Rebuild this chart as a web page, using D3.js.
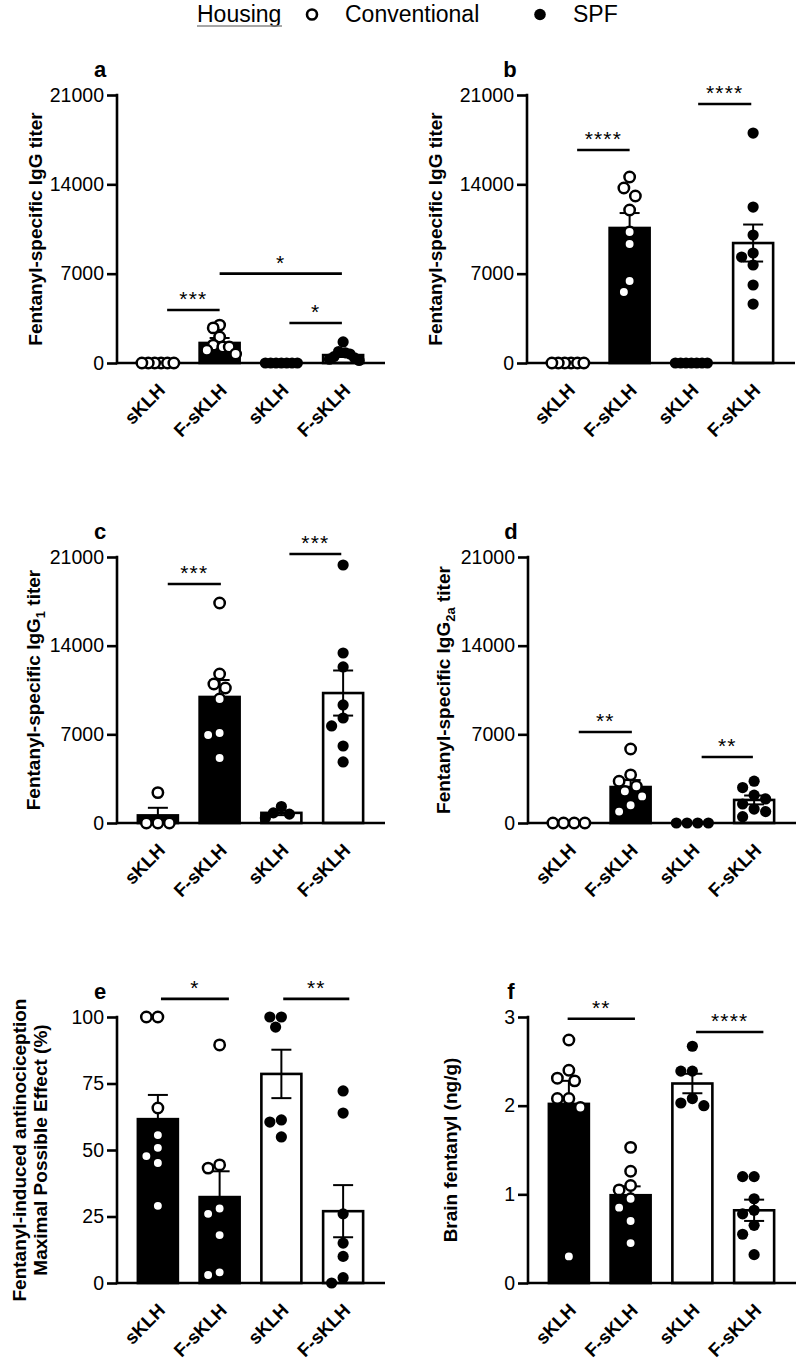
<!DOCTYPE html>
<html><head><meta charset="utf-8">
<script src="https://cdn.jsdelivr.net/npm/d3@7"></script>
<style>
body{margin:0;background:#fff}
svg{display:block}
text{font-family:"Liberation Sans", Arial, Helvetica, sans-serif;fill:#000}
</style>
</head><body>
<svg id="chart" width="800" height="1367"></svg>
<script>
// ---------------- DATA ----------------
const categories = ["sKLH", "F-sKLH", "sKLH", "F-sKLH"];
const housing = ["Conventional", "Conventional", "SPF", "SPF"];
const legendItems = ["Conventional", "SPF"];

const titerTicks = [0, 7000, 14000, 21000];
const mpeTicks = [0, 25, 50, 75, 100];
const brainTicks = [0, 1, 2, 3];

// a: Fentanyl-specific IgG titer (first cohort)
const aPoints = [[0,0,0,0,0,0], [2970,2750,2040,1400,1250,1250,1000,700], [0,0,0,0,0,0,0], [1650,900,800,700,500,400,300,200]];
const aMeans = [0, 1570, 0, 620];
const aSem = [0, 390, 0, 150];
const aSig = [[0.15, 1.0, 4150, "***"], [1.0, 2.98, 7000, "*"], [2.13, 2.98, 3130, "*"]];

// b: Fentanyl-specific IgG titer
const bPoints = [[0,0,0,0,0,0], [14570,13710,13090,11990,10270,9320,6430,5560], [0,0,0,0,0,0,0], [18020,12220,10030,8620,8300,7680,6110,4620]];
const bMeans = [0, 10580, 0, 9400];
const bSem = [0, 1170, 0, 1450];
const bSig = [[0.15, 1.0, 16690, "****"], [2.11, 2.97, 20300, "****"]];

// c: Fentanyl-specific IgG1 titer
const cPoints = [[2400,0,0,0], [17370,11760,10970,10660,9790,7100,6950,5130], [1300,800,700,400], [20370,13420,12320,9320,8290,7660,6080,4820]];
const cMeans = [600, 9950, 800, 10260];
const cSem = [600, 1340, 180, 1780];
const cSig = [[0.16, 1.02, 18870, "***"], [2.13, 2.97, 21240, "***"]];

// d: Fentanyl-specific IgG2a titer
const dPoints = [[0,0,0,0], [5840,3800,3300,2900,2500,2100,1400,900], [0,0,0,0], [3300,2800,2200,1900,1500,1100,900,500]];
const dMeans = [0, 2840, 0, 1820];
const dSem = [0, 550, 0, 350];
const dSig = [[0.16, 1.02, 7180, "**"], [2.15, 2.98, 5210, "**"]];

// e: Fentanyl-induced antinociception, MPE (%)
const ePoints = [[100,100,65.8,55.6,50.8,47.7,45.1,29], [89.5,44.4,43.2,28,26,18,4,3], [100,100,96.2,61.3,60.5,54.9], [72.2,63.9,26,15,10,2,0]];
const eMeans = [61.6, 32.3, 78.6, 27];
const eSem = [9.1, 9.7, 9.1, 9.8];
const eSig = [[0.05, 1.15, 106.8, "*"], [2.03, 3.1, 106.8, "**"]];

// f: Brain fentanyl (ng/g)
const fPoints = [[2.74,2.40,2.31,2.28,2.08,2.08,1.98,0.30], [1.53,1.26,1.1,1.05,0.95,0.85,0.7,0.45], [2.67,2.39,2.39,2.08,2.03,2.0], [1.2,1.2,0.95,0.82,0.78,0.65,0.55,0.32]];
const fMeans = [2.02, 0.99, 2.25, 0.82];
const fSem = [0.26, 0.10, 0.11, 0.12];
const fSig = [[-0.02, 1.07, 2.98, "**"], [2.06, 3.15, 2.83, "****"]];

// ---------------- LAYOUT ----------------
const panels = [
  {id:"a", pts:aPoints, means:aMeans, sem:aSem, sig:aSig, ticks:titerTicks, max:21000, ax:117, top:95, bot:363, titleX:35, title:[[["Fentanyl-specific IgG titer"]]]},
  {id:"b", pts:bPoints, means:bMeans, sem:bSem, sig:bSig, ticks:titerTicks, max:21000, ax:527, top:95, bot:363, titleX:435, title:[[["Fentanyl-specific IgG titer"]]]},
  {id:"c", pts:cPoints, means:cMeans, sem:cSem, sig:cSig, ticks:titerTicks, max:21000, ax:117, top:557, bot:823, titleX:33, title:[[["Fentanyl-specific IgG"],["1","sub"],[" titer"]]]},
  {id:"d", pts:dPoints, means:dMeans, sem:dSem, sig:dSig, ticks:titerTicks, max:21000, ax:528, top:557, bot:823, titleX:443, title:[[["Fentanyl-specific IgG"],["2a","sub"],[" titer"]]]},
  {id:"e", pts:ePoints, means:eMeans, sem:eSem, sig:eSig, ticks:mpeTicks, max:100, ax:117, top:1017, bot:1283, titleX:19, title:[[["Fentanyl-induced antinociception"]],[["Maximal Possible Effect (%)"]]]},
  {id:"f", pts:fPoints, means:fMeans, sem:fSem, sig:fSig, ticks:brainTicks, max:3, ax:528, top:1017, bot:1283, titleX:450, title:[[["Brain fentanyl (ng/g)"]]]}
];

const svg = d3.select("#chart");
const SW = 2.6;       // axis stroke
const BARW = 40;
const R = 5.2;

// legend
const lg = svg.append("g");
lg.append("text").attr("x", 197).attr("y", 22).attr("font-size", 23).text("Housing");
lg.append("line").attr("x1", 197).attr("x2", 282).attr("y1", 26).attr("y2", 26).attr("stroke", "#888").attr("stroke-width", 1.3);
const legX = d3.scalePoint().domain(legendItems).range([312, 540]);
legendItems.forEach(h => {
  const cx = legX(h);
  lg.append("circle").attr("cx", cx).attr("cy", 14.5).attr("r", h === "SPF" ? 5.8 : 5)
    .attr("fill", h === "SPF" ? "#000" : "#fff").attr("stroke", "#000").attr("stroke-width", h === "SPF" ? 0 : 2.6);
  lg.append("text").attr("x", cx + 33).attr("y", 22).attr("font-size", 23).text(h);
});

function swarm(vals, y, D, maxHalf) {
  const pts = vals.map(v => ({v, py: y(v), dx: 0}));
  const order = pts.slice().sort((p, q) => q.v - p.v);
  const placed = [];
  const cands = [0];
  for (let j = 1; j < 30; j++) { cands.push(-j * D / 2, j * D / 2); }
  order.forEach(p => {
    for (const c of cands) {
      if (placed.every(o => Math.hypot(o.dx - c, o.py - p.py) >= D - 0.01)) { p.dx = c; break; }
    }
    placed.push(p);
  });
  const allSame = vals.every(v => v === vals[0]);
  if (allSame) {
    const mn = d3.min(pts, p => p.dx), mx = d3.max(pts, p => p.dx);
    pts.forEach(p => p.dx -= (mn + mx) / 2);
  }
  const m = d3.max(pts, p => Math.abs(p.dx));
  if (m > maxHalf) pts.forEach(p => p.dx *= maxHalf / m);
  return pts;
}

panels.forEach(P => {
  const g = svg.append("g");
  const y = d3.scaleLinear().domain([0, P.max]).range([P.bot, P.top]);
  const x = d3.scalePoint().domain(d3.range(categories.length)).range([P.ax + 10, P.ax + 257]).padding(0.5);
  const step = x.step();
  const xf = f => x(0) + f * step;

  // panel letter
  g.append("text").attr("x", P.ax - 17).attr("y", P.top - 18).attr("text-anchor", "middle")
    .attr("font-size", 22).attr("font-weight", "bold").text(P.id);

  // bars
  categories.forEach((c, i) => {
    const conv = housing[i] === "Conventional";
    const yt = y(P.means[i]);
    g.append("rect").attr("x", x(i) - BARW / 2).attr("y", yt)
      .attr("width", BARW).attr("height", Math.max(0, P.bot - yt))
      .attr("fill", conv ? "#000" : "#fff").attr("stroke", "#000").attr("stroke-width", SW);
  });

  // error bars
  categories.forEach((c, i) => {
    if (P.sem[i] <= 0) return;
    const cx = x(i);
    const y1 = y(P.means[i] + P.sem[i]), y2 = y(Math.max(0, P.means[i] - P.sem[i]));
    g.append("line").attr("x1", cx).attr("x2", cx).attr("y1", y1).attr("y2", y2).attr("stroke", "#000").attr("stroke-width", 2);
    [y1, y2].forEach(yy => g.append("line").attr("x1", cx - 10).attr("x2", cx + 10).attr("y1", yy).attr("y2", yy).attr("stroke", "#000").attr("stroke-width", 2));
  });

  // axes
  const yAxis = d3.axisLeft(y).tickValues(P.ticks).tickSize(10).tickPadding(3).tickFormat(d3.format("d"));
  const ya = g.append("g").attr("transform", `translate(${P.ax},0)`).call(yAxis);
  ya.select(".domain").remove();
  ya.selectAll(".tick line").attr("stroke", "#000").attr("stroke-width", SW);
  ya.selectAll(".tick text").attr("font-size", 19.5).attr("font-family", "Liberation Sans, Arial, sans-serif").attr("fill", "#000");
  g.append("line").attr("x1", P.ax).attr("x2", P.ax).attr("y1", P.top - 1.3).attr("y2", P.bot + 1.3).attr("stroke", "#000").attr("stroke-width", SW);
  g.append("line").attr("x1", P.ax).attr("x2", P.ax + 268).attr("y1", P.bot).attr("y2", P.bot).attr("stroke", "#000").attr("stroke-width", SW);

  // x labels
  categories.forEach((c, i) => {
    g.append("text").attr("transform", `translate(${x(i) - 1},${P.bot + 19}) rotate(-45)`)
      .attr("text-anchor", "end").attr("dy", "0.72em").attr("font-size", 18.5).attr("font-weight", "bold").text(c);
  });

  // y title
  const midY = (P.top + P.bot) / 2;
  P.title.forEach((line, li) => {
    const t = g.append("text").attr("transform", `translate(${P.titleX + li * 21},${midY}) rotate(-90)`)
      .attr("text-anchor", "middle").attr("font-size", 19).attr("font-weight", "bold").attr("dy", "0.35em");
    line.forEach(seg => {
      if (seg[1] === "sub") t.append("tspan").attr("font-size", 13).attr("dy", 5).text(seg[0]);
      else if (t.selectAll("tspan").size() > 0) t.append("tspan").attr("dy", -5).text(seg[0]);
      else t.append("tspan").text(seg[0]);
    });
  });

  // points
  categories.forEach((c, i) => {
    const conv = housing[i] === "Conventional";
    const sw = swarm(P.pts[i], y, 11.5, 16);
    g.selectAll(null).data(sw).enter().append("circle")
      .attr("cx", p => x(i) + p.dx).attr("cy", p => p.py)
      .attr("r", conv ? R : 5.6)
      .attr("fill", conv ? "#fff" : "#000")
      .attr("stroke", "#000").attr("stroke-width", conv ? 2.5 : 0);
  });

  // significance
  P.sig.forEach(s => {
    const yy = y(s[2]);
    g.append("line").attr("x1", xf(s[0])).attr("x2", xf(s[1])).attr("y1", yy).attr("y2", yy).attr("stroke", "#000").attr("stroke-width", 2.6);
    g.append("text").attr("x", (xf(s[0]) + xf(s[1])) / 2).attr("y", yy - 4).attr("text-anchor", "middle")
      .attr("font-size", 21).attr("letter-spacing", 1.2).text(s[3]);
  });
});
</script>
</body></html>
